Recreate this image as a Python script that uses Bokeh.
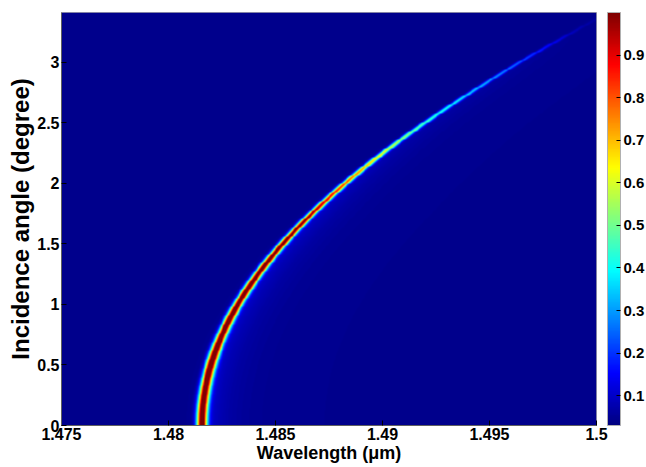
import numpy as np
from bokeh.plotting import figure
from bokeh.models import LinearColorMapper, ColorBar, FixedTicker, Range1d
from bokeh.embed import file_html
from bokeh.resources import INLINE

# ---- values ----
angle_deg = [0.0, 0.25, 0.5, 0.75, 1.0, 1.25, 1.5, 1.75, 2.0, 2.25, 2.5, 2.75, 3.0, 3.25, 3.41]
res_wavelength = [1.48156, 1.48167, 1.48198, 1.48251, 1.48324, 1.48419, 1.48534, 1.48671,
                  1.48826, 1.49002, 1.49198, 1.49412, 1.49640, 1.49890, 1.50050]
peak_value = [1.0, 1.0, 1.0, 0.99, 0.98, 0.96, 0.93, 0.86, 0.70, 0.53, 0.38, 0.28, 0.18, 0.04, 0.0]
line_fwhm = [0.00040, 0.00040, 0.00039, 0.00038, 0.00036, 0.00035, 0.00033, 0.00031,
             0.00030, 0.00028, 0.00026, 0.00024, 0.00022, 0.00021, 0.00020]
tail_fraction = 0.09
tail_decay = 0.0009
background_level = 0.045

x_ticks = [1.475, 1.48, 1.485, 1.49, 1.495, 1.5]
x_tick_labels = ["1.475", "1.48", "1.485", "1.49", "1.495", "1.5"]
y_ticks = [0, 0.5, 1, 1.5, 2, 2.5, 3]
y_tick_labels = ["0", "0.5", "1", "1.5", "2", "2.5", "3"]
cb_ticks = [0.1, 0.2, 0.3, 0.4, 0.5, 0.6, 0.7, 0.8, 0.9]

wl_min, wl_max = 1.475, 1.5
ang_min, ang_max = 0.0, 3.41

# ---- build the reflectance map from the read values ----
wl = np.linspace(wl_min, wl_max, 1100)
ang = np.linspace(ang_min, ang_max, 460)
a2 = np.array(angle_deg) ** 2
lc = np.interp(ang ** 2, a2, res_wavelength)      # resonance shifts ~ with angle squared
amp = np.interp(ang, angle_deg, peak_value)
fw = np.interp(ang, angle_deg, line_fwhm)
sig = fw / 2.3548
d = wl[None, :] - lc[:, None]
gauss = np.exp(-0.5 * (d / sig[:, None]) ** 2)
core = amp[:, None] * gauss
tail = tail_fraction * amp[:, None] * np.where(d > 0, np.exp(-d / tail_decay), gauss)
field = np.clip(background_level + core + tail, 0, 1.0)

# jet palette
xs = np.linspace(0, 1, 256)
r = np.clip(1.5 - np.abs(4 * xs - 3), 0, 1)
g = np.clip(1.5 - np.abs(4 * xs - 2), 0, 1)
b = np.clip(1.5 - np.abs(4 * xs - 1), 0, 1)
jet = ["#%02x%02x%02x" % (int(round(rr * 255)), int(round(gg * 255)), int(round(bb * 255)))
       for rr, gg, bb in zip(r, g, b)]

mapper = LinearColorMapper(palette=jet, low=0.03, high=1.0)

FONT = "Liberation Sans"
W, H = 646, 467
BL, BT, BB, BR = 61, 12, 42, 50
frame_w = W - BL - BR
frame_h = H - BT - BB

p = figure(width=W, height=H, output_backend="svg", toolbar_location=None,
           x_range=Range1d(wl_min, wl_max), y_range=Range1d(ang_min, ang_max),
           min_border_left=BL, min_border_top=BT, min_border_bottom=BB, min_border_right=BR)
p.image(image=[field], x=wl_min, y=ang_min, dw=wl_max - wl_min, dh=ang_max - ang_min,
        color_mapper=mapper)

p.grid.visible = False
p.outline_line_color = "#b0b0b0"
p.background_fill_color = "#00008f"
p.border_fill_color = "white"

p.xaxis.ticker = FixedTicker(ticks=x_ticks)
p.xaxis.major_label_overrides = {t: s for t, s in zip(x_ticks, x_tick_labels)}
p.yaxis.ticker = FixedTicker(ticks=y_ticks)
p.yaxis.major_label_overrides = {t: s for t, s in zip(y_ticks, y_tick_labels)}
p.xaxis.axis_label = "Wavelength (\u03bcm)"
p.yaxis.axis_label = "Incidence angle (degree)"

for ax in (p.xaxis[0], p.yaxis[0]):
    ax.axis_line_color = "#606060"
    ax.major_tick_in = 5
    ax.major_tick_out = 0
    ax.major_tick_line_color = "black"
    ax.minor_tick_line_color = None
    ax.major_label_text_font = FONT
    ax.major_label_text_font_style = "bold"
    ax.major_label_text_font_size = "16px"
    ax.major_label_text_color = "black"
    ax.axis_label_text_font = FONT
    ax.axis_label_text_font_style = "bold"
    ax.axis_label_text_color = "black"
    ax.major_label_standoff = 2
    ax.axis_label_standoff = 0

p.xaxis.axis_label_text_font_size = "18px"
p.yaxis.axis_label_text_font_size = "24px"

cb = ColorBar(color_mapper=mapper, ticker=FixedTicker(ticks=cb_ticks),
              location=(frame_w + 11, 0), width=13, height=frame_h,
              padding=0, margin=0, label_standoff=3,
              major_label_text_font=FONT, major_label_text_font_style="bold",
              major_label_text_font_size="15px", major_label_text_color="black",
              major_tick_line_color="black", major_tick_in=4, major_tick_out=0,
              bar_line_color="#b0b0b0", border_line_color=None,
              background_fill_alpha=0)
p.add_layout(cb, "center")

open("out.html", "w").write(file_html(p, INLINE))
